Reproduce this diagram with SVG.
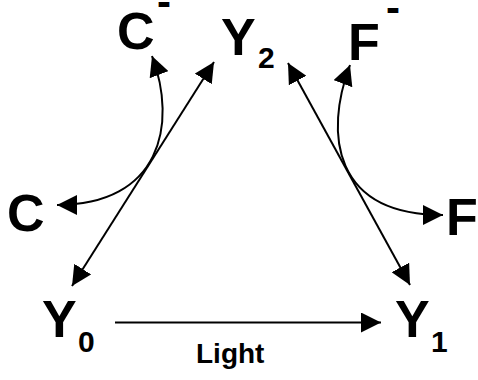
<svg xmlns="http://www.w3.org/2000/svg" width="478" height="380" viewBox="0 0 478 380">
<style>
.big{font-family:"Liberation Sans",Arial,sans-serif;font-weight:bold;font-size:52px;fill:#000}
.sub{font-family:"Liberation Sans",Arial,sans-serif;font-weight:bold;font-size:30px;fill:#000}
.sup{font-family:"Liberation Sans",Arial,sans-serif;font-weight:bold;font-size:42px;fill:#000}
.lbl{font-family:"Liberation Sans",Arial,sans-serif;font-weight:bold;font-size:28px;fill:#000}
.con{fill:none;stroke:#000;stroke-width:2}
</style>
<defs>
<marker id="ah" viewBox="0 0 20 20" markerUnits="userSpaceOnUse" markerWidth="20" markerHeight="20" refX="20" refY="10" orient="auto-start-reverse">
<path d="M0,0 L20,10 L0,20 z" fill="#000"/>
</marker>
</defs>
<g id="Y0"><text class="big" x="42" y="337">Y<tspan class="sub" x="78" y="352">0</tspan></text></g>
<g id="Y1"><text class="big" x="395" y="337">Y<tspan class="sub" x="431" y="352">1</tspan></text></g>
<g id="Y2"><text class="big" x="221" y="55">Y<tspan class="sub" x="258" y="68">2</tspan></text></g>
<g id="Cminus"><text class="big" x="117" y="49">C<tspan class="sup" x="157" y="16">-</tspan></text></g>
<g id="Fminus"><text class="big" x="348" y="60">F<tspan class="sup" x="386" y="22">-</tspan></text></g>
<g id="C"><text class="big" x="7" y="231">C</text></g>
<g id="F"><text class="big" x="446" y="235">F</text></g>
<g id="connectors">
<path class="con" d="M115,322.5 L381,322.5" marker-end="url(#ah)"/>
<path class="con" d="M72,286 L214,62" marker-start="url(#ah)" marker-end="url(#ah)"/>
<path class="con" d="M288,63 L410,285" marker-start="url(#ah)" marker-end="url(#ah)"/>
<path class="con" d="M152,56 C178,125 160,205 57,205" marker-start="url(#ah)" marker-end="url(#ah)"/>
<path class="con" d="M350,65 C324,134 333,215 443,215" marker-start="url(#ah)" marker-end="url(#ah)"/>
<text class="lbl" x="196" y="363">Light</text>
</g>
</svg>
